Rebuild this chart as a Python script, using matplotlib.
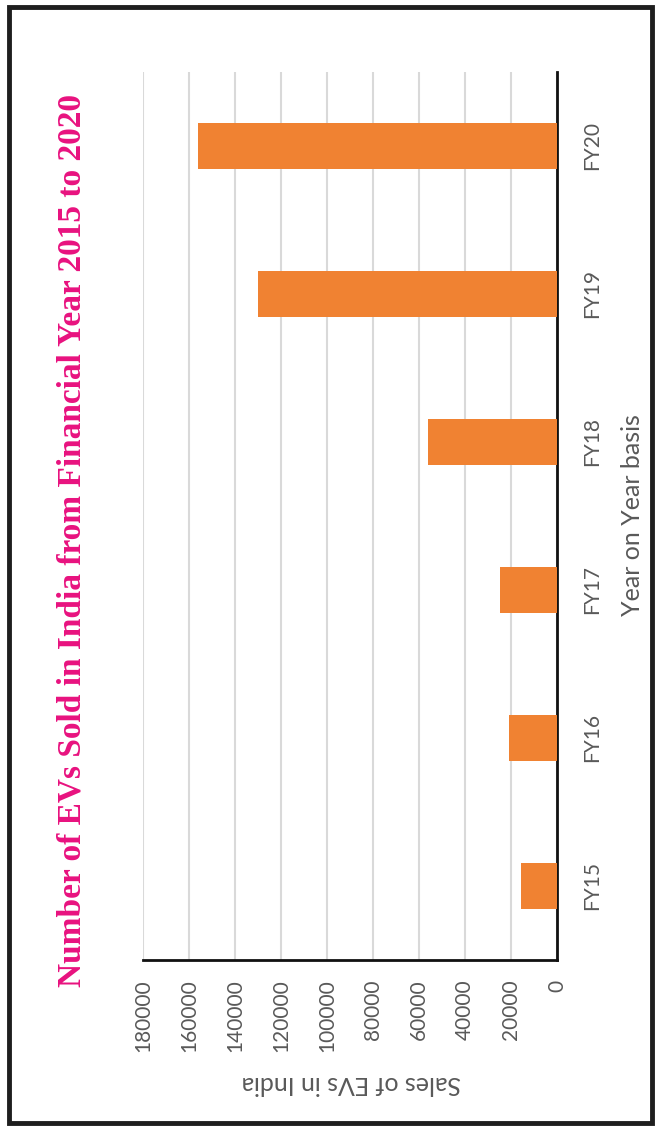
import matplotlib.pyplot as plt
from matplotlib.patches import Rectangle

years = ["FY15", "FY16", "FY17", "FY18", "FY19", "FY20"]
sales = [15500, 21000, 25000, 56000, 130000, 156000]
value_ticks = [0, 20000, 40000, 60000, 80000, 100000, 120000, 140000, 160000, 180000]

title = "Number of EVs Sold in India from Financial Year 2015 to 2020"
value_label = "Sales of EVs in India"
year_label = "Year on Year basis"

W, H = 657, 1132
fig = plt.figure(figsize=(W / 100, H / 100), dpi=100)
fig.patch.set_facecolor("white")

# chart is laid out sideways: columns run right-to-left
ax = fig.add_axes([143 / W, 1 - 960 / H, (557 - 143) / W, (960 - 72) / H])
pos = list(range(len(years)))
ax.barh(pos, sales, height=0.31, color="#F08232", zorder=3)
ax.set_xlim(180000, 0)
ax.set_ylim(-0.5, len(years) - 0.5)

ax.set_xticks(value_ticks)
ax.set_xticklabels([str(v) for v in value_ticks], rotation=90, fontsize=15,
                   family="Lato", color="#595959", va="top")
ax.tick_params(axis="x", length=0, pad=14)
ax.grid(axis="x", color="#D9D9D9", linewidth=1.5, zorder=0)

ax.yaxis.tick_right()
ax.set_yticks(pos)
ax.set_yticklabels(years, rotation=90, fontsize=15, family="Lato",
                   color="#595959", va="center", ha="left")
ax.tick_params(axis="y", length=0, pad=18)

for s in ["top", "left"]:
    ax.spines[s].set_visible(False)
for s in ["right", "bottom"]:
    ax.spines[s].set_color("#111111")
    ax.spines[s].set_linewidth(2)

fig.text(351 / W, 1 - 1084 / H, value_label, rotation=180, fontsize=18,
         family="Lato", color="#595959", ha="center", va="center")
fig.text(632 / W, 1 - 515 / H, year_label, rotation=90, fontsize=18,
         family="Lato", color="#595959", ha="center", va="center")
fig.text(72 / W, 1 - 540 / H, title, rotation=90, fontsize=24,
         family="Liberation Serif", weight="bold", color="#E8127F",
         ha="center", va="center")

# outer frame
fig.patches.append(Rectangle((9 / W, 1 - 1123 / H), (652 - 9) / W, (1123 - 7) / H,
                             transform=fig.transFigure, fill=False,
                             edgecolor="#1E1E1E", linewidth=3.5))

fig.savefig("out.png", dpi=100)
